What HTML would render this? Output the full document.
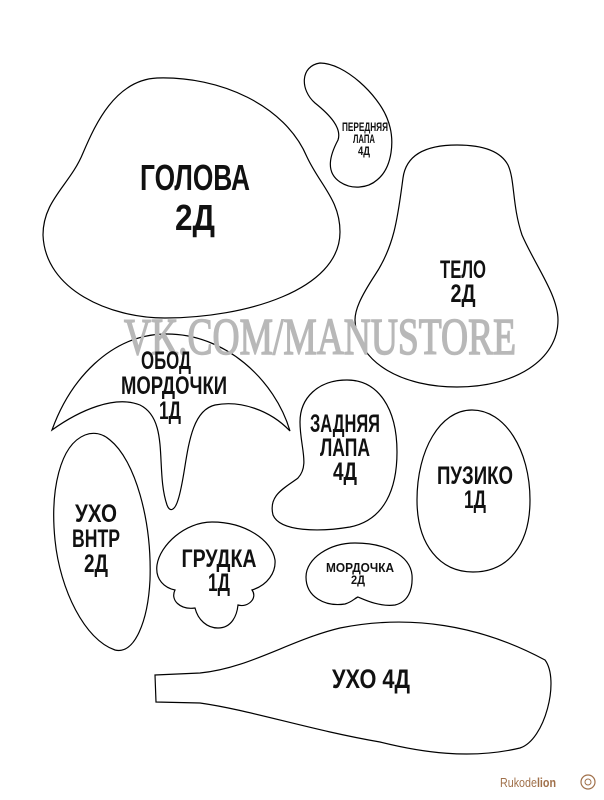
<!DOCTYPE html>
<html><head><meta charset="utf-8"><style>
html,body{margin:0;padding:0;background:#fff;}
svg{display:block;}
.s{fill:#fff;stroke:#000;stroke-width:1.2;}
text{font-family:"Liberation Sans Narrow","Liberation Sans","DejaVu Sans",sans-serif;font-weight:bold;fill:#111;text-anchor:middle;}
</style></head><body>
<svg width="604" height="800" viewBox="0 0 604 800" xmlns="http://www.w3.org/2000/svg">
<!-- Head -->
<path class="s" d="M157,78 C115,80 95,125 83,153 C70,185 43,200 43,235 C45,290 110,318 165,318 C245,318 340,290 340,232 C340,200 320,185 307,157 C285,105 220,76 157,78 Z"/>
<!-- Front paw -->
<path class="s" d="M320,63 C345,63 378,95 387,118 C396,140 392,168 377,180 C368,188 352,190 340,182 C325,172 330,155 338,140 C342,128 330,115 315,103 C300,90 300,66 320,63 Z"/>
<!-- Body -->
<path class="s" d="M457,145 C425,145 406,155 403,178 C398,215 395,245 375,275 C360,298 355,310 355,320 C357,365 405,387 457,387 C515,387 558,360 558,320 C558,295 535,265 522,235 C512,205 515,180 508,165 C500,150 480,145 457,145 Z"/>
<!-- Obod -->
<path class="s" d="M52,430 C70,380 110,335 165,334 C225,333 275,380 290,431 C270,410 240,400 215,405 C185,412 188,470 178,500 C175,510 170,513 167,505 C155,470 170,420 140,405 C115,395 80,410 52,430 Z"/>
<!-- Back paw -->
<path class="s" d="M347,380 C318,380 300,398 300,422 C300,447 310,465 298,478 C285,488 268,495 273,515 C280,532 320,532 350,527 C385,520 397,488 397,452 C397,408 378,380 347,380 Z"/>
<!-- Belly -->
<path class="s" d="M472,410 C440,410 417,450 417,500 C417,545 440,572 473,572 C508,572 530,545 530,500 C530,450 505,410 472,410 Z"/>
<!-- Inner ear -->
<path class="s" d="M85,435 C60,445 50,490 55,540 C60,590 85,640 115,650 C135,655 148,620 150,580 C152,520 135,460 110,440 C102,433 93,432 85,435 Z"/>
<!-- Chest -->
<path class="s" d="M212,522 C185,522 160,545 157,565 C155,580 165,588 175,590 C170,600 180,610 195,608 C198,620 207,628 218,628 C232,628 237,615 238,605 C248,608 258,598 252,590 C268,585 276,572 275,560 C272,540 245,522 212,522 Z"/>
<!-- Muzzle -->
<path class="s" d="M355,543 C330,543 306,558 306,577 C306,597 325,607 345,604 C352,602 355,598 358,597 C365,600 380,607 395,605 C408,602 413,590 412,575 C410,555 385,543 355,543 Z"/>
<!-- Ear -->
<path class="s" d="M155,675 L200,673 C250,668 290,640 340,628 C410,614 480,625 545,660 C560,680 545,740 520,748 C470,760 420,752 380,742 C310,730 250,710 200,703 L156,702 Z"/>
<!-- Watermark -->
<text x="320" y="354" font-size="52" style="font-family:'Liberation Serif',serif;font-weight:normal;fill:#b8b8b8;stroke:#b8b8b8;stroke-width:1.5" textLength="392" lengthAdjust="spacingAndGlyphs">VK.COM/MANUSTORE</text>
<!-- Labels -->
<text x="195" y="190" font-size="36" textLength="110" lengthAdjust="spacingAndGlyphs">ГОЛОВА</text>
<text x="195" y="230" font-size="36" textLength="40" lengthAdjust="spacingAndGlyphs">2Д</text>
<text x="365" y="131" font-size="12" textLength="46" lengthAdjust="spacingAndGlyphs">ПЕРЕДНЯЯ</text>
<text x="364" y="143" font-size="12" textLength="22" lengthAdjust="spacingAndGlyphs">ЛАПА</text>
<text x="364" y="155" font-size="12" textLength="12" lengthAdjust="spacingAndGlyphs">4Д</text>
<text x="463" y="278" font-size="25" textLength="46" lengthAdjust="spacingAndGlyphs">ТЕЛО</text>
<text x="463" y="302" font-size="25" textLength="25" lengthAdjust="spacingAndGlyphs">2Д</text>
<text x="166" y="369" font-size="25" textLength="50" lengthAdjust="spacingAndGlyphs">ОБОД</text>
<text x="174" y="394" font-size="25" textLength="106" lengthAdjust="spacingAndGlyphs">МОРДОЧКИ</text>
<text x="170" y="419" font-size="25" textLength="22" lengthAdjust="spacingAndGlyphs">1Д</text>
<text x="345" y="432" font-size="25" textLength="70" lengthAdjust="spacingAndGlyphs">ЗАДНЯЯ</text>
<text x="345" y="456" font-size="25" textLength="50" lengthAdjust="spacingAndGlyphs">ЛАПА</text>
<text x="345" y="480" font-size="25" textLength="24" lengthAdjust="spacingAndGlyphs">4Д</text>
<text x="475" y="484" font-size="25" textLength="76" lengthAdjust="spacingAndGlyphs">ПУЗИКО</text>
<text x="475" y="508" font-size="25" textLength="22" lengthAdjust="spacingAndGlyphs">1Д</text>
<text x="96" y="522" font-size="25" textLength="42" lengthAdjust="spacingAndGlyphs">УХО</text>
<text x="96" y="547" font-size="25" textLength="48" lengthAdjust="spacingAndGlyphs">ВНТР</text>
<text x="96" y="572" font-size="25" textLength="24" lengthAdjust="spacingAndGlyphs">2Д</text>
<text x="219" y="567" font-size="25" textLength="75" lengthAdjust="spacingAndGlyphs">ГРУДКА</text>
<text x="219" y="591" font-size="25" textLength="22" lengthAdjust="spacingAndGlyphs">1Д</text>
<text x="360" y="572" font-size="13" textLength="68" lengthAdjust="spacingAndGlyphs">МОРДОЧКА</text>
<text x="358" y="584" font-size="12" textLength="14" lengthAdjust="spacingAndGlyphs">2Д</text>
<text x="371" y="688" font-size="27" textLength="78" lengthAdjust="spacingAndGlyphs">УХО 4Д</text>
<!-- Logo -->
<text x="528" y="787" font-size="13" style="font-family:'Liberation Sans',sans-serif;font-weight:normal;fill:#a0704a" textLength="56" lengthAdjust="spacingAndGlyphs">Rukode<tspan style="font-weight:bold">lion</tspan></text>
<circle cx="588" cy="782" r="7" fill="none" stroke="#a0704a" stroke-width="1.2"/>
<circle cx="588" cy="782" r="3" fill="none" stroke="#a0704a" stroke-width="1"/>
</svg>
</body></html>
